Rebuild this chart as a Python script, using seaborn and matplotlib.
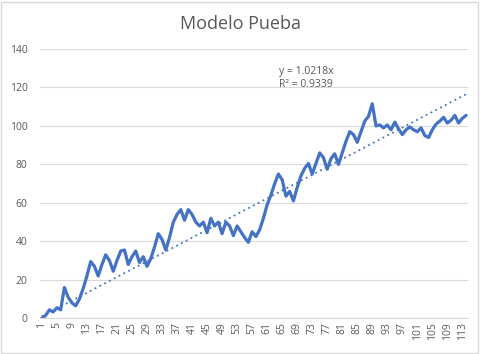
import numpy as np
import pandas as pd
import matplotlib
matplotlib.use('Agg')
import matplotlib.pyplot as plt
from matplotlib.patches import Rectangle
import seaborn as sns

valores = [0, 1.5, 4.4, 3.3, 5.5, 4.4, 16, 11, 8, 6.5,
           10, 15.5, 22, 29.5, 27, 22, 28, 33, 30, 24.5,
           30, 35, 35.5, 28, 32, 35, 29, 32, 27, 31,
           37, 44, 41, 35.5, 42, 50, 54, 56.5, 51, 56.5,
           54, 50, 48, 50, 44.5, 52, 48, 50, 44, 50,
           48, 43, 48, 45, 42, 39.5, 45, 42.5, 46, 52,
           59, 64, 70, 75, 72, 63.5, 66, 61, 68, 74,
           78, 80.5, 75, 80.5, 86, 83.5, 77.5, 83, 85.5, 80,
           86, 92, 97, 95.5, 91.5, 97, 102.5, 105, 111.5, 100,
           100.5, 99, 100.5, 98, 102, 98.5, 95.5, 98, 99.5, 98,
           97, 99, 95, 94, 98, 101, 102.5, 104.5, 101.5, 103,
           105.5, 101.5, 104, 105.5]
pendiente = 1.0218
r2 = 0.9339

x = np.arange(1, len(valores) + 1)
df = pd.DataFrame({'x': x, 'y': valores, 'tendencia': pendiente * x})

sns.set_style('white')
plt.rcParams['font.family'] = ['Open Sans', 'DejaVu Sans']

azul = '#4472C4'
gris = '#595959'

fig = plt.figure(figsize=(4.8, 3.54), dpi=100)
ax = fig.add_axes([40 / 480, 1 - 318.3 / 354, 428 / 480, (318.3 - 49) / 354])

sns.lineplot(data=df, x='x', y='y', ax=ax, color=azul, linewidth=2.3)
sns.lineplot(data=df, x='x', y='tendencia', ax=ax, color=azul, linewidth=1.3,
             linestyle=(0, (1, 2)))

ax.set_xlim(0.5, len(valores) + 0.5)
ax.set_ylim(0, 140)
ax.set_yticks(range(0, 141, 20))
ax.set_xticks(x[::4])
ax.set_xticklabels([str(v) for v in x[::4]], rotation=90)
ax.grid(axis='y', color='#d9d9d9', linewidth=0.8)
ax.set_axisbelow(True)
for s in ['top', 'right', 'left']:
    ax.spines[s].set_visible(False)
ax.spines['bottom'].set_color('#d9d9d9')
ax.spines['bottom'].set_linewidth(0.8)
ax.tick_params(axis='both', length=0, labelsize=7.5, colors=gris)
ax.tick_params(axis='y', pad=9)
ax.tick_params(axis='x', pad=3)
ax.set_xlabel('')
ax.set_ylabel('')

ax.text(64.2, 125, f'y = {pendiente}x\nR² = {r2}', fontsize=7.5, color=gris,
        va='center', ha='left', linespacing=1.3)

fig.text(0.502, 1 - 24 / 354, 'Modelo Pueba', ha='center', va='center',
         fontsize=13, color=gris)

fig.add_artist(Rectangle((0.003, 0.003), 0.992, 0.992, transform=fig.transFigure,
                         fill=False, edgecolor='#d9d9d9', linewidth=1))

fig.savefig('out.png', dpi=100)
